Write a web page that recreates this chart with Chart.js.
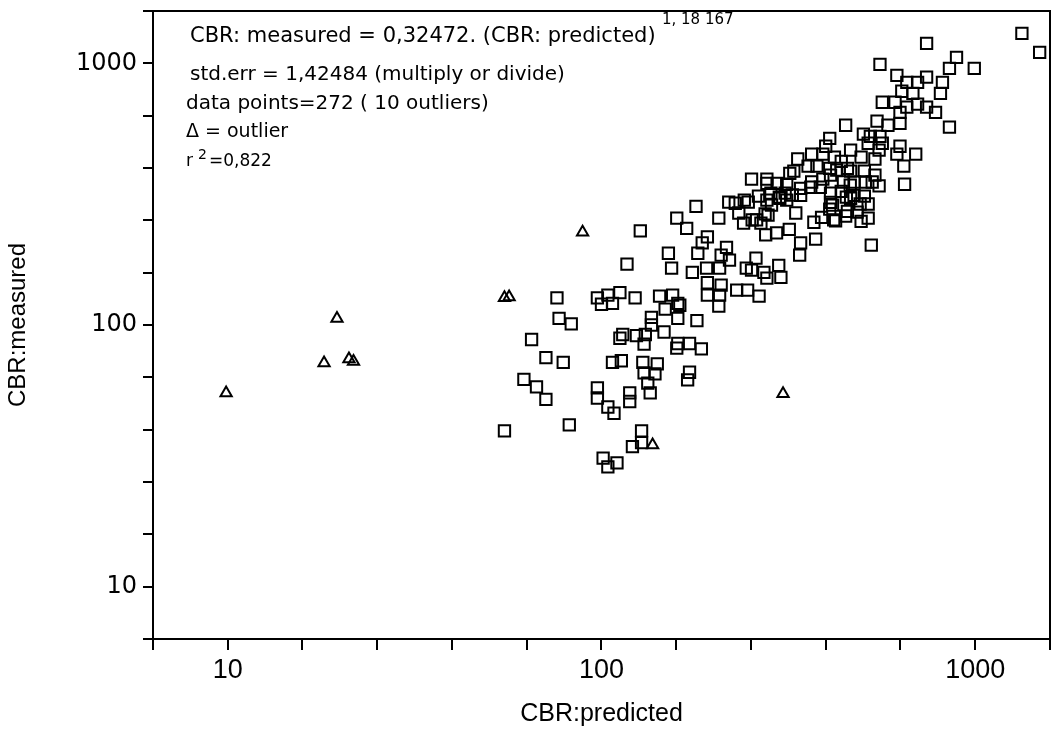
<!DOCTYPE html>
<html>
<head>
<meta charset="utf-8">
<title>CBR predicted vs measured</title>
<script src="https://cdn.jsdelivr.net/npm/chart.js@4.4.0/dist/chart.umd.min.js"></script>
<style>
  html, body { margin: 0; padding: 0; background: #fff; }
  #wrap { width: 1060px; height: 729px; position: relative; }
</style>
</head>
<body>
<div id="wrap"><canvas id="cbrChart"></canvas></div>
<script>
// regular samples: CBR predicted (x) / CBR measured (y)
const sqPredicted = [
  55, 62, 67, 71, 65, 71, 79, 77, 83, 76, 82,
  97.5, 100, 104, 107, 112, 123, 114, 112, 107, 113, 97.5, 97.5, 104, 108, 101, 104, 110,
  117, 119, 119, 128, 121, 128, 124, 131, 130, 129, 141, 130, 139, 133, 135,
  127, 136, 136, 143, 155, 160, 162, 148, 147, 160, 180, 160, 172, 185, 159, 172, 170,
  151, 154, 159, 169, 179, 175, 192, 186, 181, 191, 216, 209, 220, 207,
  192, 192, 209, 207, 206, 230, 246, 264, 259, 244, 252, 272, 277, 298, 302,
  341, 339, 374, 370, 388, 418, 423, 410, 452, 492, 517, 527, 647, 463, 508, 363, 341, 385, 295, 277,
  206, 219, 228, 233, 240, 247, 253, 260, 267, 275, 294, 285, 279, 299, 310, 324, 318, 331,
  741, 891, 853, 994, 556, 617, 656, 701, 741, 817, 807, 681, 636, 564, 610, 656, 701, 741, 783, 629,
  853, 546, 584, 629, 556, 524, 450, 502, 517, 564, 629, 617, 693, 644, 553, 539, 495, 464,
  408, 398, 391, 420, 438, 365, 335, 327, 357, 377, 408, 426, 464, 505, 539, 474, 530, 444, 410, 455,
  553, 319, 313, 284, 263, 300, 313, 341, 365, 391, 410, 438, 474, 505, 464, 415, 408, 455, 483, 517,
  495, 450, 252, 277, 241, 277, 274,
  1333, 1487
];
const sqMeasured = [
  39.4, 62, 58, 52, 88, 75, 72, 106, 101, 127, 41.5,
  127, 120, 130, 121, 133, 127, 92, 89, 72, 73, 57.5, 52.6, 48.6, 46, 31, 28.7, 29.7,
  171, 55, 51, 39.4, 34.3, 35.5, 91, 92, 84.5, 72, 71, 65.6, 65, 60, 55,
  229, 107, 100, 129, 130, 121, 119, 115, 94, 106, 104, 85, 85, 81, 81.6, 66, 61.7,
  188, 165, 256, 234, 284, 159, 217, 206, 188, 165, 198, 185, 177, 165,
  145, 130, 142, 130, 118, 136, 136, 129, 180, 165, 162, 159, 151, 169, 152,
  206, 185, 213, 247, 258, 252, 250, 294, 308, 290, 290, 202, 345, 342, 352, 336, 333, 336, 348, 348,
  256, 295, 292, 268, 245, 295, 252, 252, 245, 221, 225, 287, 263, 308, 319, 314, 232, 268,
  1192, 1054, 957, 957, 991, 900, 846, 846, 885, 846, 768, 768, 782, 710, 710, 680, 698, 680, 650, 650,
  570, 601, 580, 590, 526, 526, 580, 536, 495, 495, 482, 450, 450, 405, 466, 431, 438, 466,
  517, 482, 450, 438, 422, 450, 431, 387, 405, 405, 397, 391, 387, 387, 374, 352, 352, 352, 374, 397,
  340, 380, 345, 319, 311, 305, 300, 313, 352, 361, 319, 324, 313, 311, 305, 287, 277, 272, 270, 256,
  249, 261, 361, 361, 300, 300, 266,
  1302, 1101
];

// outliers (triangles)
const outPredicted = [9.9, 18.1, 19.6, 21.1, 21.7, 55, 56.6, 89, 137, 306];
const outMeasured = [55, 71.6, 106, 74.2, 72.5, 127, 128, 226, 34.8, 54.6];

// axis ticks every 0.2 decade, only whole decades carry a label
const tickExponents = [0.8, 1.0, 1.2, 1.4, 1.6, 1.8, 2.0, 2.2, 2.4, 2.6, 2.8, 3.0, 3.2];
const labelledTicks = [10, 100, 1000];

const toPoints = (xs, ys) => xs.map((x, i) => ({ x: x, y: ys[i] }));
const tickLabel = v => {
  const hit = labelledTicks.find(t => Math.abs(t - v) / t < 1e-6);
  return hit ? String(hit) : '';
};
const setTicks = s => { s.ticks = tickExponents.map(e => ({ value: Math.pow(10, e) })); };

// outer frame (top/right) and the regression notes
const frameAndNotes = {
  id: 'frameAndNotes',
  afterDraw(chart) {
    const { ctx, chartArea: a } = chart;
    ctx.save();
    ctx.strokeStyle = '#000';
    ctx.lineWidth = 2;
    ctx.beginPath();
    ctx.moveTo(a.left - 6, a.top);
    ctx.lineTo(a.right, a.top);
    ctx.lineTo(a.right, a.bottom);
    ctx.stroke();

    ctx.fillStyle = '#000';
    ctx.textBaseline = 'middle';
    ctx.textAlign = 'left';
    ctx.font = '21px "DejaVu Sans"';
    ctx.fillText('CBR: measured = 0,32472. (CBR: predicted)', 190, 37);
    ctx.font = '15px "DejaVu Sans"';
    ctx.fillText('1, 18 167', 662, 20);
    ctx.font = '20px "DejaVu Sans"';
    ctx.fillText('std.err = 1,42484 (multiply or divide)', 190, 75);
    ctx.fillText('data points=272 ( 10 outliers)', 186, 104);
    ctx.font = '19px "DejaVu Sans"';
    ctx.fillText('\u0394 = outlier', 186, 132);
    ctx.font = '17px "DejaVu Sans"';
    ctx.fillText('r', 186, 162);
    ctx.font = '14px "DejaVu Sans"';
    ctx.fillText('2', 198, 155);
    ctx.font = '17px "DejaVu Sans"';
    ctx.fillText('=0,822', 209, 162);
    ctx.restore();
  }
};

const ctx = document.getElementById('cbrChart').getContext('2d');
const cbrChart = new Chart(ctx, {
  type: 'scatter',
  data: {
    datasets: [{
      label: 'data points',
      data: toPoints(sqPredicted, sqMeasured),
      pointStyle: 'rect',
      pointRadius: 8,
      borderWidth: 2,
      borderColor: '#000',
      backgroundColor: 'rgba(0,0,0,0)'
    }, {
      label: 'outlier',
      data: toPoints(outPredicted, outMeasured),
      pointStyle: 'triangle',
      pointRadius: 6.5,
      borderWidth: 2,
      borderColor: '#000',
      backgroundColor: 'rgba(0,0,0,0)'
    }]
  },
  options: {
    responsive: true,
    maintainAspectRatio: false,
    animation: false,
    layout: { padding: { top: 11, right: 2, left: 0, bottom: 0 } },
    plugins: {
      legend: { display: false },
      tooltip: { enabled: false }
    },
    scales: {
      x: {
        type: 'logarithmic',
        min: Math.pow(10, 0.8),
        max: Math.pow(10, 3.2),
        afterBuildTicks: setTicks,
        afterFit: s => { s.height = 90; s.paddingLeft = 0; s.paddingRight = 0; },
        grid: { drawOnChartArea: false, drawTicks: true, tickLength: 11, color: '#000', lineWidth: 2 },
        border: { display: true, color: '#000', width: 2 },
        ticks: {
          autoSkip: false, maxRotation: 0, padding: 4, color: '#000',
          font: { family: '"Liberation Sans Narrow", "Liberation Sans"', size: 27 },
          callback: v => tickLabel(v)
        },
        title: {
          display: true, text: 'CBR:predicted', color: '#000',
          font: { family: '"Liberation Sans"', size: 25 },
          padding: { top: 0, bottom: 0 }
        }
      },
      y: {
        type: 'logarithmic',
        min: Math.pow(10, 0.8),
        max: Math.pow(10, 3.2),
        afterBuildTicks: setTicks,
        afterFit: s => { s.width = 153; s.paddingTop = 0; s.paddingBottom = 0; },
        grid: { drawOnChartArea: false, drawTicks: true, tickLength: 10, color: '#000', lineWidth: 2 },
        border: { display: true, color: '#000', width: 2 },
        ticks: {
          autoSkip: false, padding: 6, color: '#000',
          font: { family: '"DejaVu Sans"', size: 24 },
          callback: v => tickLabel(v)
        },
        title: {
          display: true, text: 'CBR:measured', color: '#000',
          font: { family: '"Liberation Sans"', size: 24 },
          padding: { top: 4, bottom: 0 }
        }
      }
    }
  },
  plugins: [frameAndNotes]
});
</script>
</body>
</html>
